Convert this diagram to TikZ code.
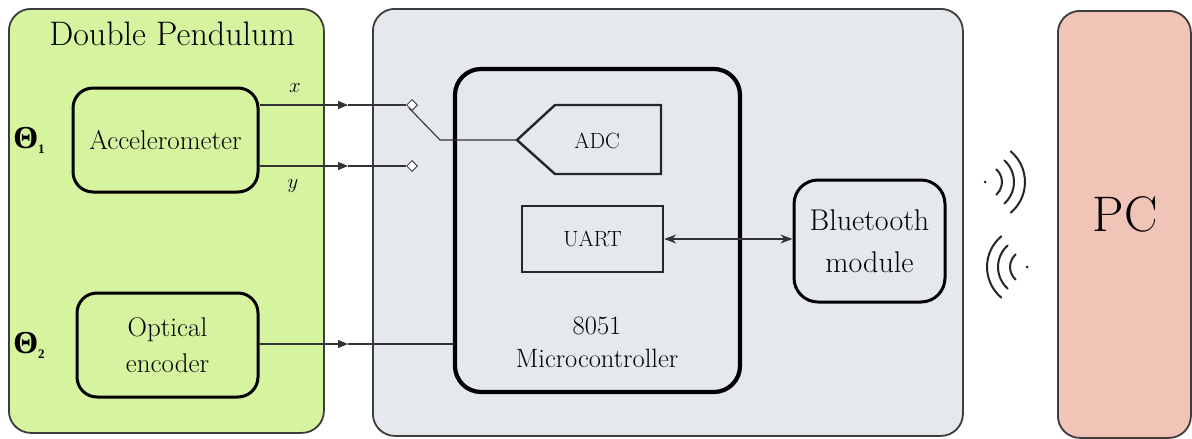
\documentclass[tikz,border=0pt]{standalone}
\usepackage{fontspec}
\newfontfamily\gkfont{Liberation Serif}
\usetikzlibrary{arrows.meta,shapes.geometric}
\definecolor{pgreen}{RGB}{214,244,160}
\definecolor{pgray}{RGB}{229,232,236}
\definecolor{ppink}{RGB}{240,196,182}
\definecolor{edgegray}{RGB}{60,60,60}
\newcommand{\fs}[2]{\fontsize{#1}{#2}\selectfont}
\tikzset{
  panel/.style={draw=edgegray,line width=1.8pt,rounded corners=22pt,anchor=north west,inner sep=0pt},
  blockr/.style={draw=black,line width=3pt,rounded corners=20pt,inner sep=0pt,align=center,font=\fs{27}{34}},
  plainbox/.style={draw=black!85,line width=2.4pt,inner sep=0pt,align=center,font=\fs{22}{28}},
  wire/.style={draw=black!80,line width=1.1pt},
  sw/.style={diamond,draw=black!70,fill=white,line width=1pt,inner sep=0pt,minimum size=11pt},
  wave/.style={line width=2pt,black!85,line cap=round},
  tri/.style={-{Triangle[length=10pt,width=8pt]}},
  theta/.style={font=\gkfont\bfseries\fs{32}{36},inner sep=0pt},
}
\begin{document}
\begin{tikzpicture}[x=1pt,y=-1pt]
\useasboundingbox (0,0) rectangle (1192,439);
% panels
\node[panel,fill=pgreen,minimum width=315pt,minimum height=424pt] (dp) at (8,8) {};
\node[panel,fill=pgray,minimum width=590pt,minimum height=427pt] (mcu) at (372,8) {};
\node[panel,fill=ppink,minimum width=133pt,minimum height=427pt] (pc) at (1057,10) {};
\node[font=\fs{34}{40}] (title) at (172,34) {Double Pendulum};
\node[font=\fs{50}{60}] (pclabel) at (1125,214) {PC};
% left blocks
\node[blockr,minimum width=185pt,minimum height=104pt] (acc) at (165.5,140) {Accelerometer};
\node[blockr,minimum width=181pt,minimum height=104pt,font=\fs{27}{36}] (enc) at (167.5,345) {Optical\\encoder};
\node[theta] (t1) at (29,140) {Θ\raisebox{-5pt}{\fs{13}{15}1}};
\node[theta] (t2) at (29,345) {Θ\raisebox{-5pt}{\fs{13}{15}2}};
\node[font=\fs{22}{26}] (xl) at (295,88) {$x$};
\node[font=\fs{22}{26}] (yl) at (293,186) {$y$};
% microcontroller
\node[draw=black,line width=4.2pt,rounded corners=26pt,minimum width=285pt,minimum height=323pt,inner sep=0pt] (mc) at (597.5,230.5) {};
\node[align=center,font=\fs{26.5}{33}] (mclabel) at (597,342) {8051\\Microcontroller};
\node[plainbox,minimum width=141pt,minimum height=66pt] (uart) at (592.5,239) {UART};
\draw[draw=black!85,line width=2.4pt] (517,140) coordinate (adctip) -- (555,105) -- (661,105) -- (661,174) -- (555,174) -- cycle;
\node[font=\fs{22}{28}] (adc) at (597,141) {ADC};
\node[blockr,minimum width=151pt,minimum height=122pt,rounded corners=24pt,font=\fs{30}{42}] (bt) at (869.5,241) {Bluetooth\\module};
% switch
\node[sw] (d1) at (412,105) {};
\node[sw] (d2) at (412,166) {};
\coordinate (m1) at (348,105);
\coordinate (m2) at (348,166);
\coordinate (m3) at (348,344);
\coordinate (knee) at (440,140);
\draw[wire,tri] (acc.east |- m1) -- (m1);
\draw[wire] (m1) -- (d1.west);
\draw[wire,tri] (acc.east |- m2) -- (m2);
\draw[wire] (m2) -- (d2.west);
\draw[wire,tri] (enc.east |- m3) -- (m3);
\draw[wire] (m3) -- (mc.west |- m3);
\draw[wire] (d1.south west) -- (knee) -- (adctip);
\draw[wire,{Stealth[length=12pt,width=9pt]}-{Stealth[length=12pt,width=9pt]}] (uart.east) -- (uart.east -| bt.west);
% wireless
\node[circle,fill=black!85,inner sep=0pt,minimum size=3pt] (w1) at (985,182) {};
\draw[wave] (w1) ++(-48:17) arc[start angle=-48,end angle=48,radius=17];
\draw[wave] (w1) ++(-48:29) arc[start angle=-48,end angle=48,radius=29];
\draw[wave] (w1) ++(-50:40) arc[start angle=-50,end angle=50,radius=40];
\node[circle,fill=black!85,inner sep=0pt,minimum size=3pt] (w2) at (1027,267) {};
\draw[wave] (w2) ++(132:17) arc[start angle=132,end angle=228,radius=17];
\draw[wave] (w2) ++(132:29) arc[start angle=132,end angle=228,radius=29];
\draw[wave] (w2) ++(130:40) arc[start angle=130,end angle=230,radius=40];
\end{tikzpicture}
\end{document}
